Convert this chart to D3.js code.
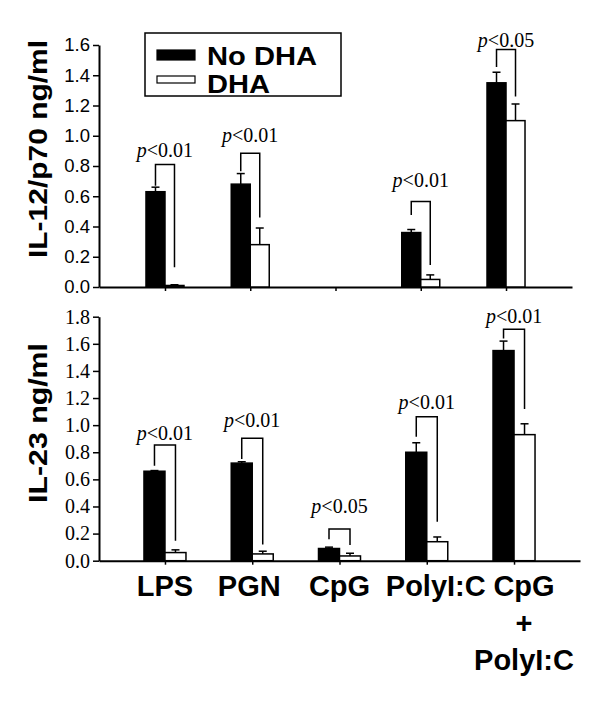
<!DOCTYPE html>
<html>
<head>
<meta charset="UTF-8">
<script src="https://d3js.org/d3.v7.min.js"></script>
<style>
  body { margin: 0; background: #fff; }
  svg { display: block; }
</style>
</head>
<body>
<div id="chart"></div>
<script>
// categories (the last one is written on three lines)
var categories = ["LPS", "PGN", "CpG", "PolyI:C", "CpG+PolyI:C"]
var categoryLines = [["LPS"], ["PGN"], ["CpG"], ["PolyI:C"], ["CpG", "+", "PolyI:C"]]
var seriesNames = ["No DHA", "DHA"]

// IL-12/p70 (top panel), null = not measured
var il12NoDha    = [0.63, 0.68, null, 0.36, 1.35]
var il12NoDhaErr = [0.03, 0.07, null, 0.02, 0.07]
var il12Dha      = [0.01, 0.28, null, 0.05, 1.10]
var il12DhaErr   = [0.005, 0.11, null, 0.03, 0.11]
var il12Sig      = ["<0.01", "<0.01", null, "<0.01", "<0.05"]
var il12BrTop    = [0.81, 0.885, null, 0.565, 1.57]
var il12BrLeft   = [0.67, 0.765, null, 0.476, 1.455]
var il12BrRight  = [0.13, 0.46, null, 0.145, 1.26]
var il12LabelAt  = [0.86, 0.96, null, 0.663, 1.59]
var il12Ticks    = [0, 0.2, 0.4, 0.6, 0.8, 1.0, 1.2, 1.4, 1.6]

// IL-23 (bottom panel)
var il23NoDha    = [0.66, 0.72, 0.09, 0.80, 1.55]
var il23NoDhaErr = [0.005, 0.01, 0.01, 0.07, 0.07]
var il23Dha      = [0.06, 0.05, 0.035, 0.14, 0.93]
var il23DhaErr   = [0.02, 0.02, 0.02, 0.035, 0.08]
var il23Sig      = ["<0.01", "<0.01", "<0.05", "<0.01", "<0.01"]
var il23BrTop    = [0.853, 0.903, 0.234, 1.062, 1.708]
var il23BrLeft   = [0.70, 0.75, 0.158, 0.915, 1.64]
var il23BrRight  = [0.148, 0.12, 0.116, 0.288, 1.12]
var il23LabelAt  = [0.89, 0.99, 0.35, 1.117, 1.752]
var il23Ticks    = [0, 0.2, 0.4, 0.6, 0.8, 1.0, 1.2, 1.4, 1.6, 1.8]

var width = 600
var height = 710

var svg = d3.select("#chart")
  .append("svg")
  .attr("width", width)
  .attr("height", height)

var sans = "'Liberation Sans', Arial, sans-serif"
var serif = "'Liberation Serif', 'Times New Roman', serif"

function panel(opt) {
  var x = d3.scalePoint()
    .domain(categories)
    .range([99, opt.xEnd])
    .padding(opt.pad)

  var y = d3.scaleLinear()
    .domain([0, opt.max])
    .range([opt.y0, opt.y1])

  var g = svg.append("g")
  var bw = opt.barW

  // y axis
  var yAxis = g.append("g")
    .attr("transform", "translate(99,0)")
    .call(d3.axisLeft(y).tickValues(opt.ticks).tickFormat(d3.format(".1f")).tickSize(6).tickSizeOuter(0).tickPadding(3))
  yAxis.select(".domain").attr("stroke-width", 2)
  yAxis.selectAll(".tick line").attr("stroke-width", 1.5)
  yAxis.selectAll("text")
    .style("font-family", opt.tickFont)
    .style("font-size", opt.tickSize + "px")
    .attr("fill", "#000")

  // x axis
  var xAxis = g.append("g")
    .attr("transform", "translate(0," + opt.y0 + ")")
    .call(d3.axisBottom(x).tickSize(4).tickSizeOuter(0).tickFormat(""))
  xAxis.select(".domain").attr("stroke-width", 2)
  xAxis.selectAll(".tick line").attr("stroke-width", 1.5)

  var rows = categories.map(function(c, i) {
    return {cat: c, a: opt.a[i], ae: opt.ae[i], b: opt.b[i], be: opt.be[i],
            sig: opt.sig[i], top: opt.brTop[i], left: opt.brLeft[i], right: opt.brRight[i], lab: opt.labAt[i]}
  }).filter(function(d) { return d.a != null })

  // error bars (drawn first so the bars cover the base)
  var err = []
  rows.forEach(function(d) {
    err.push({cx: x(d.cat) - bw / 2, v: d.a, e: d.ae})
    err.push({cx: x(d.cat) + bw / 2, v: d.b, e: d.be})
  })
  var eg = g.selectAll(".err").data(err).enter().append("g")
  eg.append("line")
    .attr("x1", function(d) { return d.cx }).attr("x2", function(d) { return d.cx })
    .attr("y1", function(d) { return y(d.v) }).attr("y2", function(d) { return y(d.v + d.e) })
    .attr("stroke", "#000").attr("stroke-width", 1.5)
  eg.append("line")
    .attr("x1", function(d) { return d.cx - 4 }).attr("x2", function(d) { return d.cx + 4 })
    .attr("y1", function(d) { return y(d.v + d.e) }).attr("y2", function(d) { return y(d.v + d.e) })
    .attr("stroke", "#000").attr("stroke-width", 1.5)

  // bars
  g.selectAll(".barA").data(rows).enter().append("rect")
    .attr("x", function(d) { return x(d.cat) - bw })
    .attr("width", bw)
    .attr("y", function(d) { return y(d.a) })
    .attr("height", function(d) { return y(0) - y(d.a) })
    .attr("fill", "#000").attr("stroke", "#000").attr("stroke-width", 1.5)
  g.selectAll(".barB").data(rows).enter().append("rect")
    .attr("x", function(d) { return x(d.cat) })
    .attr("width", bw)
    .attr("y", function(d) { return y(d.b) })
    .attr("height", function(d) { return y(0) - y(d.b) })
    .attr("fill", "#fff").attr("stroke", "#000").attr("stroke-width", 1.5)

  // significance brackets
  g.selectAll(".br").data(rows).enter().append("path")
    .attr("d", function(d) {
      var xl = x(d.cat) - bw / 2, xr = x(d.cat) + bw / 2
      return "M" + xl + "," + y(d.left) + "V" + y(d.top) + "H" + xr + "V" + y(d.right)
    })
    .attr("fill", "none").attr("stroke", "#000").attr("stroke-width", 1.5)

  var lab = g.selectAll(".sig").data(rows).enter().append("text")
    .attr("x", function(d) { return x(d.cat) })
    .attr("y", function(d) { return y(d.lab) })
    .attr("text-anchor", "middle")
    .style("font-family", serif)
    .style("font-size", "20px")
  lab.append("tspan").style("font-style", "italic").text("p")
  lab.append("tspan").text(function(d) { return d.sig })

  // axis title (glyphs are stretched along the text in the original)
  g.append("text")
    .attr("transform", "translate(" + 46.5 + "," + opt.titleY + ") rotate(-90)")
    .attr("text-anchor", "middle")
    .attr("textLength", opt.titleLen)
    .attr("lengthAdjust", "spacingAndGlyphs")
    .style("font-family", sans)
    .style("font-weight", "bold")
    .style("font-size", "25px")
    .text(opt.title)

  return x
}

panel({
  a: il12NoDha, ae: il12NoDhaErr, b: il12Dha, be: il12DhaErr,
  sig: il12Sig, brTop: il12BrTop, brLeft: il12BrLeft, brRight: il12BrRight, labAt: il12LabelAt,
  ticks: il12Ticks, max: 1.6, y0: 287, y1: 45, xEnd: 572, pad: 0.774, barW: 19,
  tickFont: sans, tickSize: 18.5, title: "IL-12/p70 ng/ml", titleY: 149, titleLen: 218
})

var xb = panel({
  a: il23NoDha, ae: il23NoDhaErr, b: il23Dha, be: il23DhaErr,
  sig: il23Sig, brTop: il23BrTop, brLeft: il23BrLeft, brRight: il23BrRight, labAt: il23LabelAt,
  ticks: il23Ticks, max: 1.8, y0: 560.7, y1: 316.7, xEnd: 580, pad: 0.756, barW: 21,
  tickFont: serif, tickSize: 20, title: "IL-23 ng/ml", titleY: 423, titleLen: 160
})

// category labels under the bottom panel
var labelShift = [0, -3, 0, 9, 10]
categoryLines.forEach(function(lines, i) {
  lines.forEach(function(t, j) {
    svg.append("text")
      .attr("x", xb(categories[i]) + labelShift[i])
      .attr("y", 596 + j * 37)
      .attr("text-anchor", "middle")
      .style("font-family", sans)
      .style("font-weight", "bold")
      .style("font-size", "29px")
      .text(t)
  })
})

// legend
var legend = svg.append("g")
legend.append("rect")
  .attr("x", 145).attr("y", 33).attr("width", 196).attr("height", 63)
  .attr("fill", "#fff").attr("stroke", "#000").attr("stroke-width", 1.5)
seriesNames.forEach(function(name, i) {
  legend.append("rect")
    .attr("x", 157).attr("y", i == 0 ? 50 : 76)
    .attr("width", 38).attr("height", i == 0 ? 10 : 7)
    .attr("fill", i == 0 ? "#000" : "#fff")
    .attr("stroke", "#000").attr("stroke-width", 1.2)
  legend.append("text")
    .attr("x", 207).attr("y", i == 0 ? 65 : 93)
    .attr("textLength", i == 0 ? 110 : 63)
    .attr("lengthAdjust", "spacingAndGlyphs")
    .style("font-family", sans)
    .style("font-weight", "bold")
    .style("font-size", "26px")
    .text(name)
})
</script>
</body>
</html>
